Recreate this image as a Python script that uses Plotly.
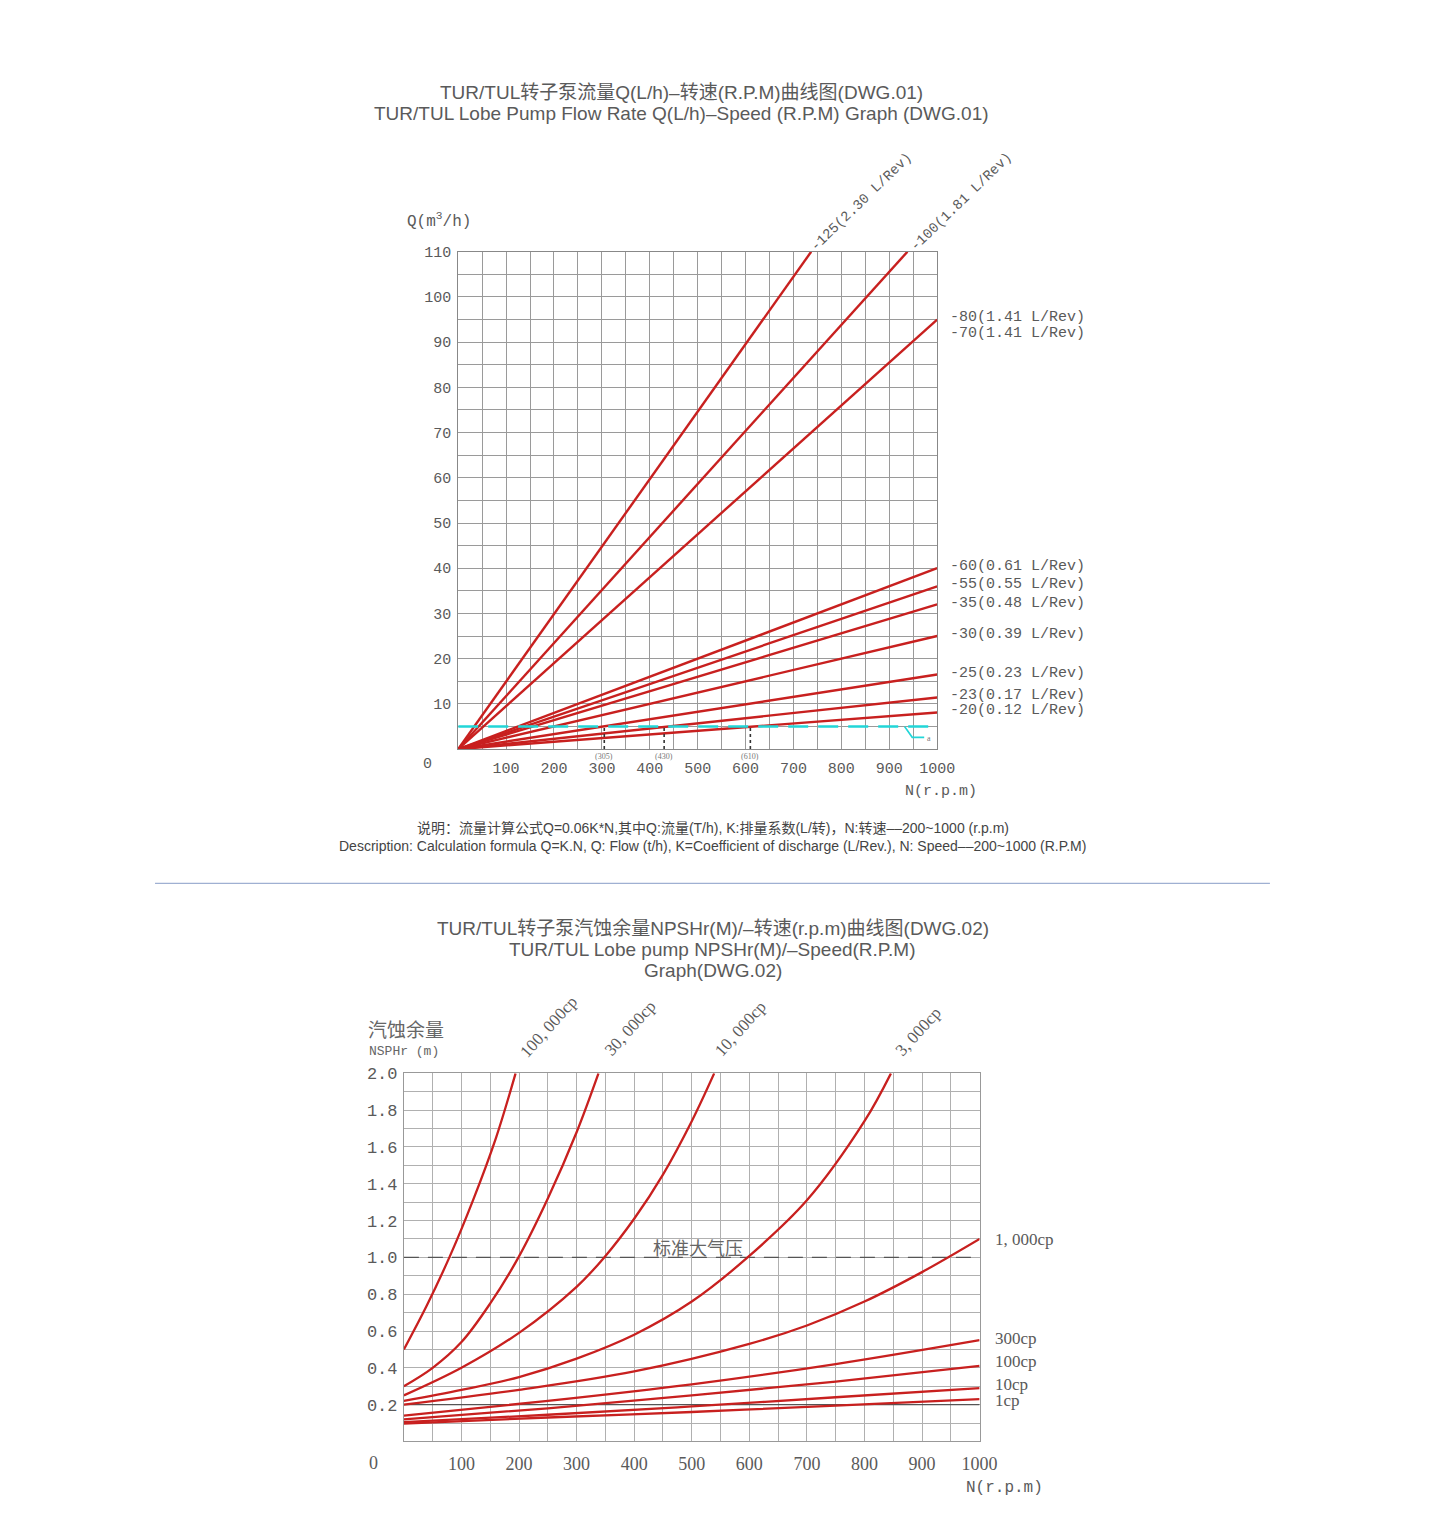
import plotly.graph_objects as go

W, H = 1440, 1522

# ---------------- DATA: DWG.01 (flow vs speed) ----------------
flow_models = ["-125", "-100", "-80/-70", "-60", "-55", "-35", "-30", "-25", "-23", "-20"]
flow_end_rpm = [737, 938, 1000, 1000, 1000, 1000, 1000, 1000, 1000, 1000]
flow_end_q = [110, 110, 95, 40, 36, 32, 25, 16.5, 11.4, 8.1]

top_rot_labels = ["-125(2.30 L/Rev)", "-100(1.81 L/Rev)"]
right_labels = ["-80(1.41 L/Rev)", "-70(1.41 L/Rev)", "-60(0.61 L/Rev)", "-55(0.55 L/Rev)",
                "-35(0.48 L/Rev)", "-30(0.39 L/Rev)", "-25(0.23 L/Rev)", "-23(0.17 L/Rev)",
                "-20(0.12 L/Rev)"]
right_label_q = [95.5, 92.0, 40.3, 36.5, 32.1, 25.3, 16.7, 11.9, 8.6]

ref_q = 5
ref_marks_rpm = [305, 430, 610]
ref_hook_rpm = [932, 948, 973]
ref_hook_q = [5, 2.6, 2.6]

top_xticks = [100, 200, 300, 400, 500, 600, 700, 800, 900, 1000]
top_yticks = [10, 20, 30, 40, 50, 60, 70, 80, 90, 100, 110]

# ---------------- DATA: DWG.02 (NPSHr vs speed) ----------------
visc_names = ["100,000cp", "30,000cp", "10,000cp", "3,000cp", "1,000cp", "300cp", "100cp", "10cp", "1cp"]
npsh_rpm = [
    [0, 40, 79, 120, 160, 194],
    [0, 50, 100, 150, 199, 250, 300, 338],
    [0, 100, 200, 300, 348, 400, 450, 500, 539],
    [0, 100, 200, 300, 400, 500, 597, 700, 800, 846],
    [0, 200, 400, 600, 700, 800, 900, 1000],
    [0, 250, 500, 750, 1000],
    [0, 250, 500, 750, 1000],
    [0, 250, 500, 750, 1000],
    [0, 250, 500, 750, 1000],
]
npsh_val = [
    [0.50, 0.74, 1.00, 1.31, 1.65, 2.00],
    [0.30, 0.40, 0.54, 0.75, 1.00, 1.32, 1.68, 2.00],
    [0.25, 0.40, 0.59, 0.84, 1.00, 1.21, 1.45, 1.74, 2.00],
    [0.22, 0.28, 0.35, 0.45, 0.58, 0.76, 1.00, 1.31, 1.74, 2.00],
    [0.20, 0.28, 0.38, 0.53, 0.63, 0.76, 0.92, 1.10],
    [0.14, 0.22, 0.31, 0.42, 0.55],
    [0.12, 0.18, 0.25, 0.325, 0.41],
    [0.105, 0.145, 0.19, 0.24, 0.29],
    [0.097, 0.13, 0.16, 0.195, 0.23],
]
top_visc_labels = ["100, 000cp", "30, 000cp", "10, 000cp", "3, 000cp"]
right_visc_labels = ["1, 000cp", "300cp", "100cp", "10cp", "1cp"]
right_visc_y = [1.097, 0.562, 0.432, 0.308, 0.222]
atm_value = 1.0

bot_xticks = [100, 200, 300, 400, 500, 600, 700, 800, 900, 1000]
bot_yticks = [0.2, 0.4, 0.6, 0.8, 1.0, 1.2, 1.4, 1.6, 1.8, 2.0]
bot_yticktext = ["0.2", "0.4", "0.6", "0.8", "1.0", "1.2", "1.4", "1.6", "1.8", "2.0"]

# ---------------- STYLE ----------------
RED = "#c8201f"
CYAN = "#22d6d8"
MONO = "Liberation Mono, Noto Sans CJK SC"
SERIF = "Liberation Serif, Noto Sans CJK SC"
SANS = "Liberation Sans, Noto Sans CJK SC"
TXT = "#5a5a5a"


def pp(x, y):
    return dict(x=x / W, y=1 - y / H, xref="paper", yref="paper",
                xanchor="center", yanchor="middle")


fig = go.Figure()

# top chart lines
for name, r, q in zip(flow_models, flow_end_rpm, flow_end_q):
    fig.add_trace(go.Scatter(x=[0, r], y=[0, q], mode="lines", name=name,
                             line=dict(color=RED, width=2.4), xaxis="x", yaxis="y",
                             showlegend=False, hoverinfo="skip"))

fig.add_trace(go.Scatter(x=[0, 1000], y=[ref_q, ref_q], mode="lines",
                         line=dict(color=CYAN, width=2.6, dash="20px,10px"),
                         xaxis="x", yaxis="y", showlegend=False, hoverinfo="skip"))
fig.add_trace(go.Scatter(x=ref_hook_rpm, y=ref_hook_q, mode="lines",
                         line=dict(color=CYAN, width=1.6),
                         xaxis="x", yaxis="y", showlegend=False, hoverinfo="skip"))
for r in ref_marks_rpm:
    fig.add_trace(go.Scatter(x=[r, r], y=[0, ref_q], mode="lines",
                             line=dict(color="#333333", width=1.6, dash="dot"),
                             xaxis="x", yaxis="y", showlegend=False, hoverinfo="skip"))

# bottom chart
fig.add_trace(go.Scatter(x=[0, 1000], y=[0.2, 0.2], mode="lines",
                         line=dict(color="#555555", width=1.2),
                         xaxis="x2", yaxis="y2", showlegend=False, hoverinfo="skip"))
fig.add_trace(go.Scatter(x=[0, 1000], y=[atm_value, atm_value], mode="lines",
                         line=dict(color="#555555", width=1.2, dash="15px,9px"),
                         xaxis="x2", yaxis="y2", showlegend=False, hoverinfo="skip"))
for name, xs, ys in zip(visc_names, npsh_rpm, npsh_val):
    fig.add_trace(go.Scatter(x=xs, y=ys, mode="lines", name=name,
                             line=dict(color=RED, width=2.3, shape="spline", smoothing=1.0),
                             xaxis="x2", yaxis="y2", showlegend=False, hoverinfo="skip"))

ann = []
# titles
ann.append(dict(**pp(690, 85), text="TUR/TUL转子泵流量Q(L/h)–转速(R.P.M)曲线图(DWG.01)",
                showarrow=False, font=dict(family=SANS, size=19, color=TXT)))
ann.append(dict(**pp(690, 106), text="TUR/TUL Lobe Pump Flow Rate Q(L/h)–Speed (R.P.M) Graph (DWG.01)",
                showarrow=False, font=dict(family=SANS, size=19, color=TXT)))
ann.append(dict(**pp(722, 925), text="TUR/TUL转子泵汽蚀余量NPSHr(M)/–转速(r.p.m)曲线图(DWG.02)",
                showarrow=False, font=dict(family=SANS, size=19, color=TXT)))
ann.append(dict(**pp(722, 946), text="TUR/TUL Lobe pump NPSHr(M)/–Speed(R.P.M)",
                showarrow=False, font=dict(family=SANS, size=19, color=TXT)))
ann.append(dict(**pp(722, 968), text="Graph(DWG.02)",
                showarrow=False, font=dict(family=SANS, size=19, color=TXT)))
# description
ann.append(dict(**pp(722, 824), text="说明：流量计算公式Q=0.06K*N,其中Q:流量(T/h), K:排量系数(L/转)，N:转速––200~1000 (r.p.m)",
                showarrow=False, font=dict(family=SANS, size=14, color="#444")))
ann.append(dict(**pp(722, 842), text="Description: Calculation formula Q=K.N, Q: Flow (t/h), K=Coefficient of discharge (L/Rev.), N: Speed––200~1000 (R.P.M)",
                showarrow=False, font=dict(family=SANS, size=14, color="#444")))

# top chart axis texts
ann.append(dict(**pp(445, 214), text="Q(m<sup>3</sup>/h)", showarrow=False,
                font=dict(family=MONO, size=16, color=TXT)))
ann.append(dict(**pp(953, 788), text="N(r.p.m)", showarrow=False,
                font=dict(family=MONO, size=15, color=TXT)))
ann.append(dict(**pp(433, 760), text="0", showarrow=False,
                font=dict(family=MONO, size=15, color=TXT)))
ann.append(dict(**pp(872, 195), text=top_rot_labels[0], showarrow=False, textangle=-44,
                font=dict(family=MONO, size=14, color=TXT)))
ann.append(dict(**pp(973, 195), text=top_rot_labels[1], showarrow=False, textangle=-44,
                font=dict(family=MONO, size=14, color=TXT)))
for t, q in zip(right_labels, right_label_q):
    ann.append(dict(x=1000, y=q, xref="x", yref="y", text=t, showarrow=False,
                    xanchor="left", yanchor="middle", xshift=11,
                    font=dict(family=MONO, size=15, color=TXT)))
for r in ref_marks_rpm:
    ann.append(dict(x=r, y=0, xref="x", yref="y", text=f"({r})", showarrow=False,
                    xanchor="center", yanchor="middle", yshift=-7,
                    font=dict(family=SERIF, size=8, color="#777")))
ann.append(dict(x=ref_hook_rpm[-1], y=ref_hook_q[-1], xref="x", yref="y", text="a", showarrow=False,
                xanchor="left", yanchor="middle", xshift=1, yshift=-1,
                font=dict(family=SERIF, size=8, color="#777")))

# bottom chart texts
ann.append(dict(**pp(411, 1026), text="汽蚀余量", showarrow=False,
                font=dict(family="Noto Sans CJK SC", size=19, color="#666")))
ann.append(dict(**pp(409, 1049), text="NSPHr (m)", showarrow=False,
                font=dict(family=MONO, size=13, color="#666")))
ann.append(dict(**pp(378, 1463), text="0", showarrow=False,
                font=dict(family=SERIF, size=18, color=TXT)))
ann.append(dict(**pp(1017, 1488), text="N(r.p.m)", showarrow=False,
                font=dict(family=MONO, size=16, color=TXT)))
ann.append(dict(x=511, y=atm_value, xref="x2", yref="y2", text="标准大气压", showarrow=False,
                xanchor="center", yanchor="middle", yshift=10,
                font=dict(family="Noto Sans CJK SC", size=18, color="#666")))
rot_centers = [(556, 1024), (638, 1026), (750, 1026), (930, 1029)]
for t, (cx, cy) in zip(top_visc_labels, rot_centers):
    ann.append(dict(**pp(cx, cy), text=t, showarrow=False, textangle=-48,
                    font=dict(family=SERIF, size=17, color=TXT)))
for t, v in zip(right_visc_labels, right_visc_y):
    ann.append(dict(x=1000, y=v, xref="x2", yref="y2", text=t, showarrow=False,
                    xanchor="left", yanchor="middle", xshift=13,
                    font=dict(family=SERIF, size=17, color=TXT)))

shapes = [dict(type="line", xref="paper", yref="paper", x0=157 / W, x1=1286 / W,
               y0=1 - 880 / H, y1=1 - 880 / H, line=dict(color="#9fb0d2", width=1.2))]

grid_top = "#9a9a9a"
grid_bot = "#b0b0b0"
fig.update_layout(
    width=W, height=H, margin=dict(l=0, r=0, t=0, b=0),
    paper_bgcolor="white", plot_bgcolor="white", showlegend=False,
    xaxis=dict(domain=[464 / W, 949 / W], range=[0, 1000], anchor="y",
               tickvals=top_xticks, showgrid=True, gridcolor=grid_top, gridwidth=1,
               minor=dict(dtick=50, tick0=0, showgrid=True, gridcolor=grid_top, gridwidth=1),
               showline=True, linecolor="#888", linewidth=1, mirror=True, zeroline=False,
               ticks="", ticklabelstandoff=5,
               tickfont=dict(family=MONO, size=15, color=TXT)),
    yaxis=dict(domain=[1 - 745 / H, 1 - 245 / H], range=[0, 110], anchor="x",
               tickvals=top_yticks, showgrid=True, gridcolor=grid_top, gridwidth=1,
               minor=dict(dtick=5, tick0=0, showgrid=True, gridcolor=grid_top, gridwidth=1),
               showline=True, linecolor="#888", linewidth=1, mirror=True, zeroline=False,
               ticks="", ticklabelstandoff=3,
               tickfont=dict(family=MONO, size=15, color=TXT)),
    xaxis2=dict(domain=[409 / W, 992 / W], range=[0, 1000], anchor="y2",
                tickvals=bot_xticks, showgrid=True, gridcolor=grid_bot, gridwidth=1,
                minor=dict(dtick=50, tick0=0, showgrid=True, gridcolor=grid_bot, gridwidth=1),
                showline=True, linecolor="#999", linewidth=1, mirror=True, zeroline=False,
                ticks="", ticklabelstandoff=6,
                tickfont=dict(family=SERIF, size=18, color=TXT)),
    yaxis2=dict(domain=[1 - 1441 / H, 1 - 1071 / H], range=[0, 2.0], anchor="x2",
                tickvals=bot_yticks, ticktext=bot_yticktext, showgrid=True,
                gridcolor=grid_bot, gridwidth=1,
                minor=dict(dtick=0.1, tick0=0, showgrid=True, gridcolor=grid_bot, gridwidth=1),
                showline=True, linecolor="#999", linewidth=1, mirror=True, zeroline=False,
                ticks="", ticklabelstandoff=2,
                tickfont=dict(family=MONO, size=17, color=TXT)),
    annotations=ann, shapes=shapes,
)

fig.write_html("out.html")
